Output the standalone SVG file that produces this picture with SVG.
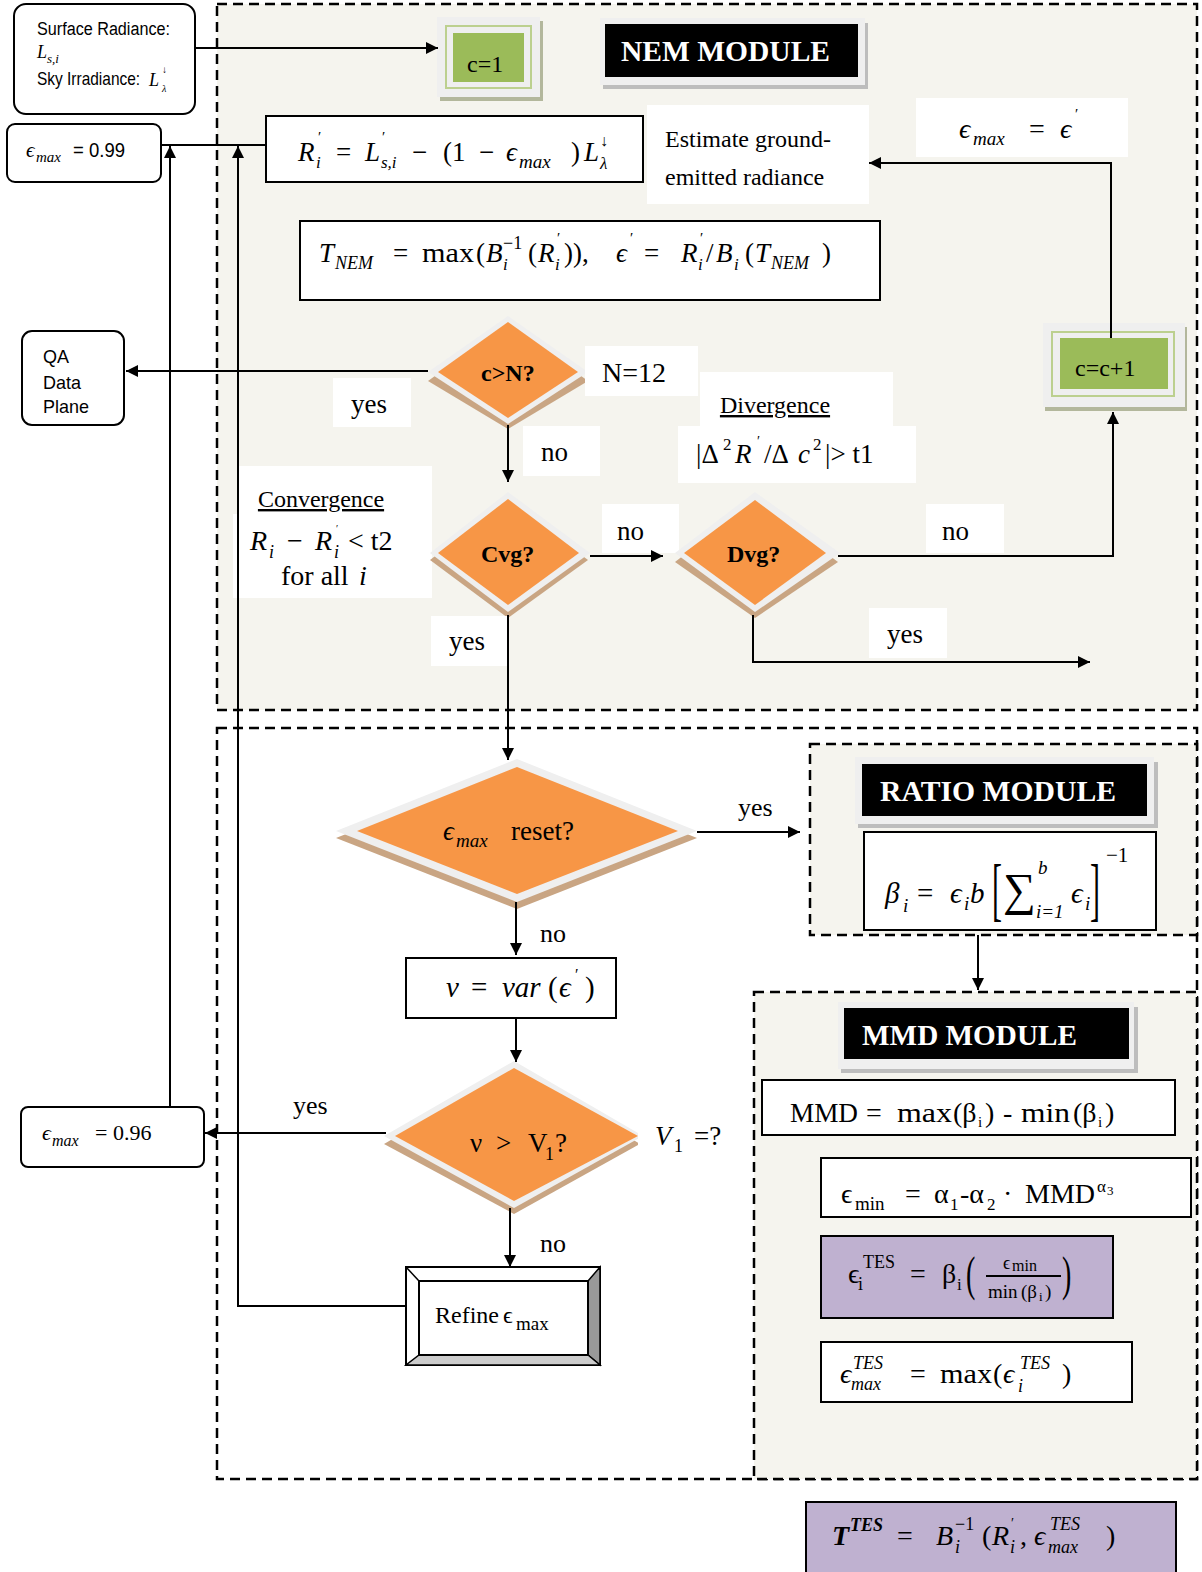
<svg xmlns="http://www.w3.org/2000/svg" width="1202" height="1572" viewBox="0 0 1202 1572">
<style>
.reg{fill:#f5f4ee;stroke:#000;stroke-width:2.5;stroke-dasharray:10 6}
.regw{fill:#fff;stroke:#000;stroke-width:2.5;stroke-dasharray:10 6}
.box{fill:#fff;stroke:#000;stroke-width:2}
.lbl{fill:#fff}
.ser{font-family:"Liberation Serif","DejaVu Serif",serif;fill:#000}
.it{font-style:italic}
.san{font-family:"Liberation Sans","DejaVu Sans",sans-serif;fill:#000}
.mod{font-family:"Liberation Serif",serif;font-weight:bold;font-size:29px;fill:#fff}
.dq{font-family:"Liberation Serif",serif;font-weight:bold;font-size:24px;fill:#000}
.orng{fill:#f79646}
.frm{fill:#efefef}
.shd{fill:#c9a583}
.grn{fill:#9bbb59}
.conn path{fill:none;stroke:#000;stroke-width:2}
.purp{fill:#bfb1d0;stroke:#000;stroke-width:2}
</style>
<defs>
<marker id="arr" viewBox="0 0 10 10" refX="10" refY="5" markerWidth="6" markerHeight="6" orient="auto" markerUnits="strokeWidth"><path d="M0,0 L10,5 L0,10 z" fill="#000"/></marker>
<clipPath id="clipv"><rect x="0" y="1000" width="638" height="300"/></clipPath>
</defs>

<!-- regions -->
<g id="regions">
<rect class="reg" x="217" y="4" width="980" height="706"/>
<rect class="regw" x="217" y="728" width="980" height="751"/>
<rect class="reg" x="810" y="744" width="387" height="191"/>
<rect class="reg" x="754" y="992" width="443" height="487"/>
</g>

<!-- NEM module nodes -->
<g id="input">
<rect class="box" x="14" y="4" width="181" height="110" rx="12"/>
<text class="san" x="37" y="35" font-size="18" textLength="133" lengthAdjust="spacingAndGlyphs">Surface Radiance:</text>
<text class="ser it" font-size="18"><tspan x="37" y="58">L</tspan><tspan x="47" y="63" font-size="13">s,i</tspan></text>
<text class="san" font-size="18" transform="translate(37,85) scale(0.86,1)">Sky Irradiance:</text>
<text class="ser it" x="149" y="86" font-size="18">L</text>
<text class="ser" x="162" y="73" font-size="10">↓</text>
<text class="ser it" x="162" y="92" font-size="10">λ</text>
</g>

<g id="c1">
<rect x="440" y="21" width="103" height="80" fill="#b3b79c"/>
<rect class="frm" x="437" y="17" width="103" height="80"/>
<rect x="446" y="26" width="85" height="62" fill="none" stroke="#bcd08f" stroke-width="2"/>
<rect class="grn" x="453" y="33" width="71" height="49"/>
<text class="ser" x="467" y="72" font-size="24">c=1</text>
</g>

<g id="nem-title">
<rect x="603" y="23" width="265" height="66" fill="#bdbdbd"/>
<rect class="frm" x="600" y="18" width="265" height="67"/>
<rect x="605" y="24" width="253" height="53" fill="#000"/>
<text class="mod" x="621" y="61" textLength="209" lengthAdjust="spacingAndGlyphs">NEM MODULE</text>
</g>

<g id="emax099">
<rect class="box" x="7" y="124" width="154" height="58" rx="8"/>
<text class="ser it" font-size="21"><tspan x="26" y="157">ϵ</tspan><tspan x="36" y="162" font-size="15">max</tspan></text>
<text class="san" x="73" y="157" font-size="21" textLength="52" lengthAdjust="spacingAndGlyphs">= 0.99</text>
</g>

<g id="rprime">
<rect class="box" x="266" y="116" width="377" height="66"/>
<text class="ser" font-size="27"><tspan x="298" y="161" font-style="italic">R</tspan><tspan x="318" y="142" font-size="15">′</tspan><tspan x="316" y="168" font-size="17" font-style="italic">i</tspan><tspan x="336" y="161">=</tspan><tspan x="365" y="161" font-style="italic">L</tspan><tspan x="382" y="142" font-size="15">′</tspan><tspan x="381" y="168" font-size="17" font-style="italic">s,i</tspan><tspan x="412" y="161">−</tspan><tspan x="443" y="161">(1</tspan><tspan x="479" y="161">−</tspan><tspan x="506" y="161" font-style="italic">ϵ</tspan><tspan x="519" y="168" font-size="19" font-style="italic">max</tspan><tspan x="571" y="161">)</tspan><tspan x="584" y="161" font-style="italic">L</tspan><tspan x="600" y="146" font-size="16">↓</tspan><tspan x="600" y="169" font-size="17" font-style="italic">λ</tspan></text>
</g>

<g id="estimate">
<rect class="lbl" x="647" y="105" width="222" height="99"/>
<text class="ser" font-size="24"><tspan x="665" y="147">Estimate ground-</tspan><tspan x="665" y="185">emitted radiance</tspan></text>
</g>

<g id="emaxprime">
<rect class="lbl" x="916" y="98" width="212" height="59"/>
<text class="ser it" font-size="28"><tspan x="959" y="138">ϵ</tspan><tspan x="973" y="145" font-size="19">max</tspan><tspan x="1029" y="138" font-style="normal">=</tspan><tspan x="1060" y="138">ϵ</tspan><tspan x="1075" y="119" font-size="15" font-style="normal">′</tspan></text>
</g>

<g id="tnem">
<rect class="box" x="300" y="221" width="580" height="79"/>
<text class="ser" font-size="27"><tspan x="319" y="262" font-style="italic">T</tspan><tspan x="335" y="269" font-size="18" font-style="italic">NEM</tspan><tspan x="393" y="262">=</tspan><tspan x="422" y="262" textLength="52" lengthAdjust="spacingAndGlyphs">max</tspan><tspan x="476" y="262">(</tspan><tspan x="486" y="262" font-style="italic">B</tspan><tspan x="503" y="249" font-size="18">−1</tspan><tspan x="503" y="270" font-size="17" font-style="italic">i</tspan><tspan x="528" y="262">(</tspan><tspan x="538" y="262" font-style="italic">R</tspan><tspan x="557" y="243" font-size="15">′</tspan><tspan x="555" y="270" font-size="17" font-style="italic">i</tspan><tspan x="564" y="262">)),</tspan><tspan x="616" y="262" font-style="italic">ϵ</tspan><tspan x="630" y="243" font-size="15">′</tspan><tspan x="644" y="262">=</tspan><tspan x="681" y="262" font-style="italic">R</tspan><tspan x="700" y="243" font-size="15">′</tspan><tspan x="698" y="270" font-size="17" font-style="italic">i</tspan><tspan x="706" y="262">/</tspan><tspan x="716" y="262" font-style="italic">B</tspan><tspan x="734" y="270" font-size="17" font-style="italic">i</tspan><tspan x="745" y="262">(</tspan><tspan x="755" y="262" font-style="italic">T</tspan><tspan x="771" y="269" font-size="18" font-style="italic">NEM</tspan><tspan x="822" y="262">)</tspan></text>
</g>

<g id="qa">
<rect class="box" x="22" y="331" width="102" height="94" rx="10"/>
<text class="san" x="43" y="363" font-size="19" textLength="26" lengthAdjust="spacingAndGlyphs">QA</text>
<text class="san" x="43" y="389" font-size="19" textLength="38" lengthAdjust="spacingAndGlyphs">Data</text>
<text class="san" x="43" y="413" font-size="19" textLength="46" lengthAdjust="spacingAndGlyphs">Plane</text>
</g>

<g id="cgtN">
<polygon class="shd" points="508,323 588,381 508,429 428,381"/>
<polygon class="frm" points="508,316 588,372 508,424 428,372"/>
<polygon class="orng" points="508,322 578,372 508,418 438,372"/>
<text class="dq" x="481" y="381">c&gt;N?</text>
</g>

<g id="lbl-n12">
<rect class="lbl" x="585" y="346" width="113" height="50"/>
<text class="ser" x="602" y="382" font-size="28">N=12</text>
</g>
<g id="lbl-yes1">
<rect class="lbl" x="333" y="378" width="78" height="49"/>
<text class="ser" x="351" y="413" font-size="27">yes</text>
</g>
<g id="lbl-no1">
<rect class="lbl" x="523" y="426" width="77" height="50"/>
<text class="ser" x="541" y="461" font-size="27">no</text>
</g>

<g id="divergence">
<rect class="lbl" x="700" y="372" width="193" height="55"/>
<rect class="lbl" x="678" y="426" width="238" height="57"/>
<text class="ser" x="775" y="413" font-size="24" text-anchor="middle" text-decoration="underline">Divergence</text>
<text class="ser" font-size="27"><tspan x="696" y="463">|Δ</tspan><tspan x="723" y="450" font-size="17">2</tspan><tspan x="735" y="463" font-style="italic">R</tspan><tspan x="757" y="446" font-size="14">′</tspan><tspan x="764" y="463">/Δ</tspan><tspan x="798" y="463" font-style="italic">c</tspan><tspan x="813" y="450" font-size="17">2</tspan><tspan x="825" y="463">|&gt; t1</tspan></text>
</g>

<g id="convergence">
<rect class="lbl" x="239" y="466" width="193" height="132"/>
<rect class="lbl" x="233" y="514" width="20" height="84"/>
<text class="ser" x="321" y="507" font-size="24" text-anchor="middle" text-decoration="underline">Convergence</text>
<text class="ser" font-size="28"><tspan x="250" y="550" font-style="italic">R</tspan><tspan x="269" y="558" font-size="18" font-style="italic">i</tspan><tspan x="287" y="550">−</tspan><tspan x="315" y="550" font-style="italic">R</tspan><tspan x="334" y="558" font-size="18" font-style="italic">i</tspan><tspan x="336" y="532" font-size="10">′</tspan><tspan x="348" y="550">&lt; t2</tspan></text>
<text class="ser" font-size="28"><tspan x="281" y="585">for all</tspan><tspan x="359" y="585" font-style="italic">i</tspan></text>
</g>

<g id="cvg">
<polygon class="shd" points="508,500 588,560 508,618 430,560"/>
<polygon class="frm" points="508,492 590,553 508,612 430,553"/>
<polygon class="orng" points="508,499 579,553 508,605 438,553"/>
<text class="dq" x="481" y="562">Cvg?</text>
</g>

<g id="lbl-no2">
<rect class="lbl" x="602" y="504" width="77" height="49"/>
<text class="ser" x="617" y="540" font-size="27">no</text>
</g>

<g id="dvg">
<polygon class="shd" points="755,500 838,562 755,618 675,562"/>
<polygon class="frm" points="755,492 840,553 755,612 675,553"/>
<polygon class="orng" points="755,500 826,553 755,605 684,553"/>
<text class="dq" x="727" y="562">Dvg?</text>
</g>

<g id="lbl-no3">
<rect class="lbl" x="926" y="504" width="78" height="49"/>
<text class="ser" x="942" y="540" font-size="27">no</text>
</g>
<g id="lbl-yes2">
<rect class="lbl" x="869" y="608" width="78" height="50"/>
<text class="ser" x="887" y="643" font-size="27">yes</text>
</g>
<g id="lbl-yes3">
<rect class="lbl" x="431" y="616" width="76" height="50"/>
<text class="ser" x="449" y="650" font-size="27">yes</text>
</g>

<g id="cc1">
<rect x="1045" y="327" width="142" height="84" fill="#b3b79c"/>
<rect class="frm" x="1043" y="323" width="142" height="84"/>
<rect x="1052" y="332" width="122" height="64" fill="none" stroke="#bcd08f" stroke-width="2"/>
<rect class="grn" x="1060" y="338" width="108" height="51"/>
<text class="ser" x="1075" y="376" font-size="24">c=c+1</text>
</g>

<!-- lower region nodes -->
<g id="reset">
<polygon class="shd" points="517,766 697,838 517,909 336,838"/>
<polygon class="frm" points="517,759 697,831 517,902 336,831"/>
<polygon class="orng" points="517,767 678,831 517,894 357,831"/>
<text class="ser" font-size="27"><tspan x="443" y="840" font-style="italic">ϵ</tspan><tspan x="456" y="847" font-size="19" font-style="italic">max</tspan><tspan x="511" y="840">reset?</tspan></text>
</g>
<g id="lbl-yes4"><text class="ser" x="738" y="816" font-size="26">yes</text></g>
<g id="lbl-no4"><text class="ser" x="540" y="942" font-size="26">no</text></g>

<g id="var">
<rect class="box" x="406" y="958" width="210" height="60"/>
<text class="ser" font-size="29"><tspan x="446" y="997" font-style="italic">ν</tspan><tspan x="471" y="997">=</tspan><tspan x="502" y="997" font-style="italic">var</tspan><tspan x="548" y="997">(</tspan><tspan x="559" y="997" font-style="italic">ϵ</tspan><tspan x="575" y="980" font-size="16">′</tspan><tspan x="585" y="997">)</tspan></text>
</g>

<g id="vgt">
<g clip-path="url(#clipv)">
<polygon class="shd" points="514,1068 640,1144 514,1214 384,1144"/>
<polygon class="frm" points="514,1061 643,1136 514,1208 384,1136"/>
</g>
<polygon class="orng" points="514,1068 638,1136 514,1201 395,1136"/>
<text class="ser" font-size="27"><tspan x="470" y="1152">ν</tspan><tspan x="496" y="1152">&gt;</tspan><tspan x="528" y="1152">V</tspan><tspan x="545" y="1160" font-size="18">1</tspan><tspan x="555" y="1152">?</tspan></text>
</g>
<g id="lbl-v1">
<text class="ser" font-size="27"><tspan x="655" y="1145" font-style="italic">V</tspan><tspan x="674" y="1152" font-size="18">1</tspan><tspan x="694" y="1145">=?</tspan></text>
</g>
<g id="lbl-yes5"><text class="ser" x="293" y="1114" font-size="26">yes</text></g>
<g id="lbl-no5"><text class="ser" x="540" y="1252" font-size="26">no</text></g>

<g id="emax096">
<rect class="box" x="21" y="1107" width="183" height="60" rx="7"/>
<text class="ser" font-size="22"><tspan x="42" y="1140" font-style="italic">ϵ</tspan><tspan x="52" y="1146" font-size="16" font-style="italic">max</tspan><tspan x="95" y="1140">= 0.96</tspan></text>
</g>

<g id="refine">
<rect x="406" y="1267" width="194" height="98" fill="#fff" stroke="#000" stroke-width="2"/>
<polygon points="588,1281 600,1267 600,1365 588,1355" fill="#999" stroke="#000" stroke-width="1.5"/>
<polygon points="419,1355 588,1355 600,1365 406,1365" fill="#ccc" stroke="#000" stroke-width="1.5"/>
<line x1="406" y1="1267" x2="419" y2="1281" stroke="#000" stroke-width="1.5"/>
<rect x="419" y="1281" width="169" height="74" fill="#fff" stroke="#000" stroke-width="2"/>
<text class="ser" font-size="24"><tspan x="435" y="1323">Refine</tspan><tspan x="503" y="1323">ϵ</tspan><tspan x="516" y="1330" font-size="19">max</tspan></text>
</g>

<!-- ratio module -->
<g id="ratio-title">
<rect x="858" y="762" width="300" height="66" fill="#bdbdbd"/>
<rect class="frm" x="855" y="757" width="299" height="67"/>
<rect x="862" y="764" width="285" height="52" fill="#000"/>
<text class="mod" x="880" y="801" textLength="236" lengthAdjust="spacingAndGlyphs">RATIO MODULE</text>
</g>
<g id="beta">
<rect class="box" x="864" y="832" width="292" height="98"/>
<text class="ser it" font-size="29"><tspan x="885" y="903">β</tspan><tspan x="903" y="912" font-size="19">i</tspan><tspan x="917" y="903" font-style="normal">=</tspan><tspan x="950" y="903">ϵ</tspan><tspan x="964" y="910" font-size="19">i</tspan><tspan x="970" y="903">b</tspan><tspan x="1038" y="874" font-size="19">b</tspan><tspan x="1036" y="918" font-size="19">i=1</tspan><tspan x="1071" y="903">ϵ</tspan><tspan x="1085" y="910" font-size="19">i</tspan><tspan x="1106" y="862" font-size="21" font-style="normal">−1</tspan></text>
<text class="ser" font-size="30" transform="translate(992,913) scale(1,2.3)">[</text>
<text class="ser" font-size="30" transform="translate(1090,913) scale(1,2.3)">]</text>
<text class="ser" font-size="46" x="1003" y="905">∑</text>
</g>

<!-- MMD module -->
<g id="mmd-title">
<rect x="841" y="1007" width="297" height="66" fill="#bdbdbd"/>
<rect class="frm" x="838" y="1002" width="296" height="67"/>
<rect x="844" y="1008" width="285" height="51" fill="#000"/>
<text class="mod" x="862" y="1045" textLength="215" lengthAdjust="spacingAndGlyphs">MMD MODULE</text>
</g>
<g id="mmd">
<rect class="box" x="762" y="1080" width="413" height="55"/>
<text class="ser" font-size="28"><tspan x="790" y="1122" textLength="68" lengthAdjust="spacingAndGlyphs">MMD</tspan><tspan x="866" y="1122">=</tspan><tspan x="897" y="1122" textLength="55" lengthAdjust="spacingAndGlyphs">max</tspan><tspan x="953" y="1122">(β</tspan><tspan x="978" y="1127" font-size="15">i</tspan><tspan x="985" y="1122">)</tspan><tspan x="1003" y="1122">-</tspan><tspan x="1021" y="1122" textLength="49" lengthAdjust="spacingAndGlyphs">min</tspan><tspan x="1073" y="1122">(β</tspan><tspan x="1098" y="1127" font-size="15">i</tspan><tspan x="1105" y="1122">)</tspan></text>
</g>
<g id="emin">
<rect class="box" x="821" y="1158" width="370" height="59"/>
<text class="ser" font-size="28"><tspan x="841" y="1203">ϵ</tspan><tspan x="855" y="1210" font-size="19">min</tspan><tspan x="905" y="1203">=</tspan><tspan x="934" y="1203">α</tspan><tspan x="950" y="1210" font-size="17">1</tspan><tspan x="960" y="1203">-α</tspan><tspan x="987" y="1210" font-size="17">2</tspan><tspan x="1003" y="1203">·</tspan><tspan x="1025" y="1203" textLength="70" lengthAdjust="spacingAndGlyphs">MMD</tspan><tspan x="1097" y="1192" font-size="17">α</tspan><tspan x="1107" y="1195" font-size="13">3</tspan></text>
</g>
<g id="etes">
<rect class="purp" x="821" y="1236" width="292" height="82"/>
<text class="ser" font-size="28"><tspan x="848" y="1283">ϵ</tspan><tspan x="863" y="1268" font-size="18">TES</tspan><tspan x="858" y="1290" font-size="18">i</tspan><tspan x="910" y="1283">=</tspan><tspan x="942" y="1283">β</tspan><tspan x="957" y="1290" font-size="17">i</tspan><tspan x="1003" y="1269" font-size="18">ϵ</tspan><tspan x="1012" y="1271" font-size="16">min</tspan><tspan x="988" y="1298" font-size="19">min</tspan><tspan x="1021" y="1298" font-size="19">(β</tspan><tspan x="1039" y="1301" font-size="13">i</tspan><tspan x="1045" y="1298" font-size="19">)</tspan></text>
<line x1="986" y1="1276" x2="1061" y2="1276" stroke="#000" stroke-width="2"/>
<text class="ser" font-size="28" transform="translate(966,1290) scale(1,1.7)">(</text>
<text class="ser" font-size="28" transform="translate(1062,1290) scale(1,1.7)">)</text>
</g>
<g id="emaxtes">
<rect class="box" x="821" y="1342" width="311" height="60"/>
<text class="ser" font-size="28"><tspan x="840" y="1383" font-style="italic">ϵ</tspan><tspan x="853" y="1369" font-size="18" font-style="italic">TES</tspan><tspan x="851" y="1390" font-size="18" font-style="italic">max</tspan><tspan x="910" y="1383">=</tspan><tspan x="940" y="1383" textLength="52" lengthAdjust="spacingAndGlyphs">max</tspan><tspan x="993" y="1383">(</tspan><tspan x="1003" y="1383" font-style="italic">ϵ</tspan><tspan x="1020" y="1369" font-size="18" font-style="italic">TES</tspan><tspan x="1018" y="1392" font-size="18" font-style="italic">i</tspan><tspan x="1062" y="1383">)</tspan></text>
</g>

<g id="ttes">
<rect class="purp" x="806" y="1502" width="370" height="80"/>
<text class="ser" font-size="28"><tspan x="832" y="1545" font-style="italic" font-weight="bold">T</tspan><tspan x="850" y="1531" font-size="18" font-style="italic" font-weight="bold">TES</tspan><tspan x="897" y="1545">=</tspan><tspan x="936" y="1545" font-style="italic">B</tspan><tspan x="955" y="1530" font-size="18">−1</tspan><tspan x="955" y="1553" font-size="18" font-style="italic">i</tspan><tspan x="982" y="1545">(</tspan><tspan x="992" y="1545" font-style="italic">R</tspan><tspan x="1011" y="1528" font-size="14">′</tspan><tspan x="1010" y="1553" font-size="18" font-style="italic">i</tspan><tspan x="1020" y="1545">,</tspan><tspan x="1034" y="1545" font-style="italic">ϵ</tspan><tspan x="1050" y="1530" font-size="18" font-style="italic">TES</tspan><tspan x="1048" y="1553" font-size="18" font-style="italic">max</tspan><tspan x="1106" y="1545">)</tspan></text>
</g>

<!-- connectors -->
<g id="connectors" class="conn">
<path d="M195,48 H438" marker-end="url(#arr)"/>
<path d="M161,145 H266"/>
<path d="M170,1107 V146" marker-end="url(#arr)"/>
<path d="M406,1306 H238 V146" marker-end="url(#arr)"/>
<path d="M428,371 H126" marker-end="url(#arr)"/>
<path d="M508,425 V482" marker-end="url(#arr)"/>
<path d="M590,556 H663" marker-end="url(#arr)"/>
<path d="M838,556 H1113 V412" marker-end="url(#arr)"/>
<path d="M1111,338 V163 H869" marker-end="url(#arr)"/>
<path d="M753,615 V662 H1090" marker-end="url(#arr)"/>
<path d="M508,615 V760" marker-end="url(#arr)"/>
<path d="M697,832 H800" marker-end="url(#arr)"/>
<path d="M516,902 V955" marker-end="url(#arr)"/>
<path d="M516,1018 V1062" marker-end="url(#arr)"/>
<path d="M386,1133 H205" marker-end="url(#arr)"/>
<path d="M510,1208 V1267" marker-end="url(#arr)"/>
<path d="M978,935 V990" marker-end="url(#arr)"/>
</g>
</svg>
